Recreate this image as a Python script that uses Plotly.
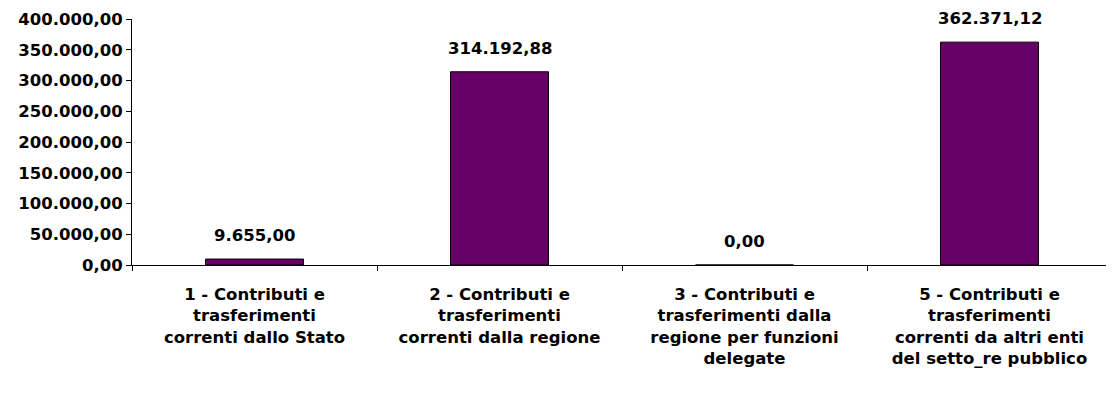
import plotly.graph_objects as go

categories = [
    "1 - Contributi e<br>trasferimenti<br>correnti dallo Stato",
    "2 - Contributi e<br>trasferimenti<br>correnti dalla regione",
    "3 - Contributi e<br>trasferimenti dalla<br>regione per funzioni<br>delegate",
    "5 - Contributi e<br>trasferimenti<br>correnti da altri enti<br>del setto_re pubblico",
]
values = [9655.00, 314192.88, 0.00, 362371.12]
value_labels = ["9.655,00", "314.192,88", "0,00", "362.371,12"]
tick_vals = [0, 50000, 100000, 150000, 200000, 250000, 300000, 350000, 400000]

font_family = "DejaVu Sans, Arial, sans-serif"
fsize = 16.5

fig = go.Figure()
fig.add_trace(go.Bar(
    x=categories,
    y=values,
    marker=dict(color="#660066", line=dict(color="#000000", width=1)),
    width=0.4,
    hoverinfo="skip",
))

for c, v, t in zip(categories, values, value_labels):
    fig.add_annotation(
        x=c, y=v, text="<b>%s</b>" % t, showarrow=False,
        yanchor="bottom", yshift=12,
        font=dict(family=font_family, size=fsize, color="#000000"),
    )

fig.update_layout(
    width=1114, height=400,
    margin=dict(l=124, r=10, t=11, b=143),
    paper_bgcolor="white", plot_bgcolor="white",
    separators=",.",
    showlegend=False,
    font=dict(family=font_family, size=fsize, color="#000000"),
)
fig.update_xaxes(
    showline=True, linecolor="#000000", linewidth=1,
    ticks="outside", tickson="boundaries", ticklen=5, tickcolor="#000000",
    ticklabelstandoff=14,
    tickfont=dict(family=font_family, size=fsize, color="#000000", weight="bold"),
    showgrid=False, zeroline=False, automargin=False,
)
fig.update_yaxes(
    range=[0, 400000], tickvals=tick_vals, tickformat=",.2f",
    showline=True, linecolor="#000000", linewidth=1,
    ticks="outside", ticklen=5, tickcolor="#000000",
    tickfont=dict(family=font_family, size=fsize, color="#000000", weight="bold"),
    showgrid=False, zeroline=False, automargin=False,
)

fig.write_html("out.html")
